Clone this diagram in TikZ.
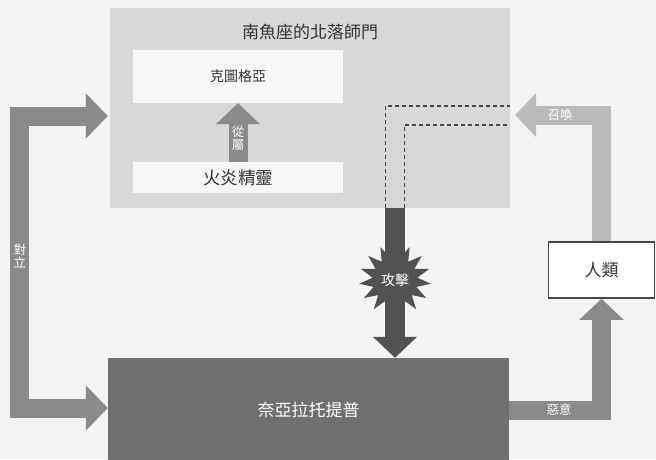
\documentclass[tikz,border=0pt]{standalone}
\usepackage{fontspec}
\setmainfont{Noto Sans CJK TC}
\usepackage{tikz}
\usetikzlibrary{calc,arrows.meta,shapes.geometric}
\tikzstyle{box}=[inner sep=0pt,text=inktext]
\tikzstyle{gatebox}=[box,fill=gatefill,minimum width=400pt,minimum height=200pt]
\tikzstyle{innerbox}=[box,fill=innerfill,minimum width=210pt]
\tikzstyle{band}=[line width=19pt,line join=miter,-{Triangle[length=21pt,width=43pt]}]
\tikzstyle{tag}=[text=white,font=\fontsize{12.5}{13.5}\selectfont,inner sep=0pt]
\tikzstyle{vtag}=[tag,align=center]
\tikzstyle{trace}=[draw=dashcol,line width=1.2pt,dash pattern=on 4pt off 3pt]
\definecolor{bgfill}{RGB}{243,243,243}
\definecolor{inktext}{RGB}{50,50,50}
\definecolor{gatefill}{RGB}{216,216,216}
\definecolor{innerfill}{RGB}{246,246,246}
\definecolor{bandmid}{RGB}{138,138,138}
\definecolor{bandlight}{RGB}{186,186,186}
\definecolor{nyarfill}{RGB}{112,112,112}
\definecolor{attackcol}{RGB}{82,82,82}
\definecolor{dashcol}{RGB}{70,70,70}

\begin{document}
\begin{tikzpicture}[x=1pt,y=-1pt]
\fill[bgfill] (0,0) rectangle (656,459);
\useasboundingbox (0,0) rectangle (656,459);
% boxes
\draw (310,108) node [gatebox] (gate) {};
\node [box,font=\fontsize{17}{17}\selectfont,below=16pt] (gatetitle) at (gate.north) {南魚座的北落師門};
\draw (238,76.5) node [innerbox,minimum height=53pt,font=\fontsize{14}{14}\selectfont] (kthulu) {克圖格亞};
\draw (238,177.5) node [innerbox,minimum height=31pt,font=\fontsize{17.5}{17.5}\selectfont] (fire) {火炎精靈};
\draw (308.5,410) node [box,fill=nyarfill,text=white,minimum width=401pt,minimum height=104pt,font=\fontsize{17}{17}\selectfont] (nyar) {奈亞拉托提普};
\draw (601.5,270) node [box,fill=white,draw=dashcol,line width=1.5pt,minimum width=106pt,minimum height=56pt,font=\fontsize{17}{17}\selectfont] (human) {人類};
% arrows
\draw[band,draw=bandmid] (fire.north) -- (kthulu.south) node[vtag,pos=0.4] {從\\屬};
\draw[band,draw=bandmid,{Triangle[length=22pt,width=44pt]}-{Triangle[length=22pt,width=44pt]}] ($(gate.west)+(-2,8)$) -- ++(-88,0) |- ($(nyar.west)+(0,-2)$) node[vtag,pos=0.24] {對\\立};
\draw[band,draw=bandlight] (human.north) |- ($(gate.east)+(5,7)$) node[tag,pos=0.74] {召喚};
\draw[band,draw=bandmid] (nyar.east) -| (human.south) node[tag,pos=0.27] {惡意};
\coordinate (atk) at (395,280);
\draw[trace] ($(atk |- gate.south)+(-9.5,0)$) |- ($(gate.east)+(0,-2)$);
\draw[trace] ($(atk |- gate.south)+(9.5,0)$) |- ($(gate.east)+(0,17)$);
\draw[band,line width=20pt,draw=attackcol] (atk |- gate.south) -- (atk |- nyar.north);
\node[star,star points=15,star point ratio=1.6,fill=attackcol,minimum size=72pt,inner sep=0pt,text=white,font=\fontsize{14}{14}\selectfont] (burst) at (atk) {攻擊};
\end{tikzpicture}
\end{document}
